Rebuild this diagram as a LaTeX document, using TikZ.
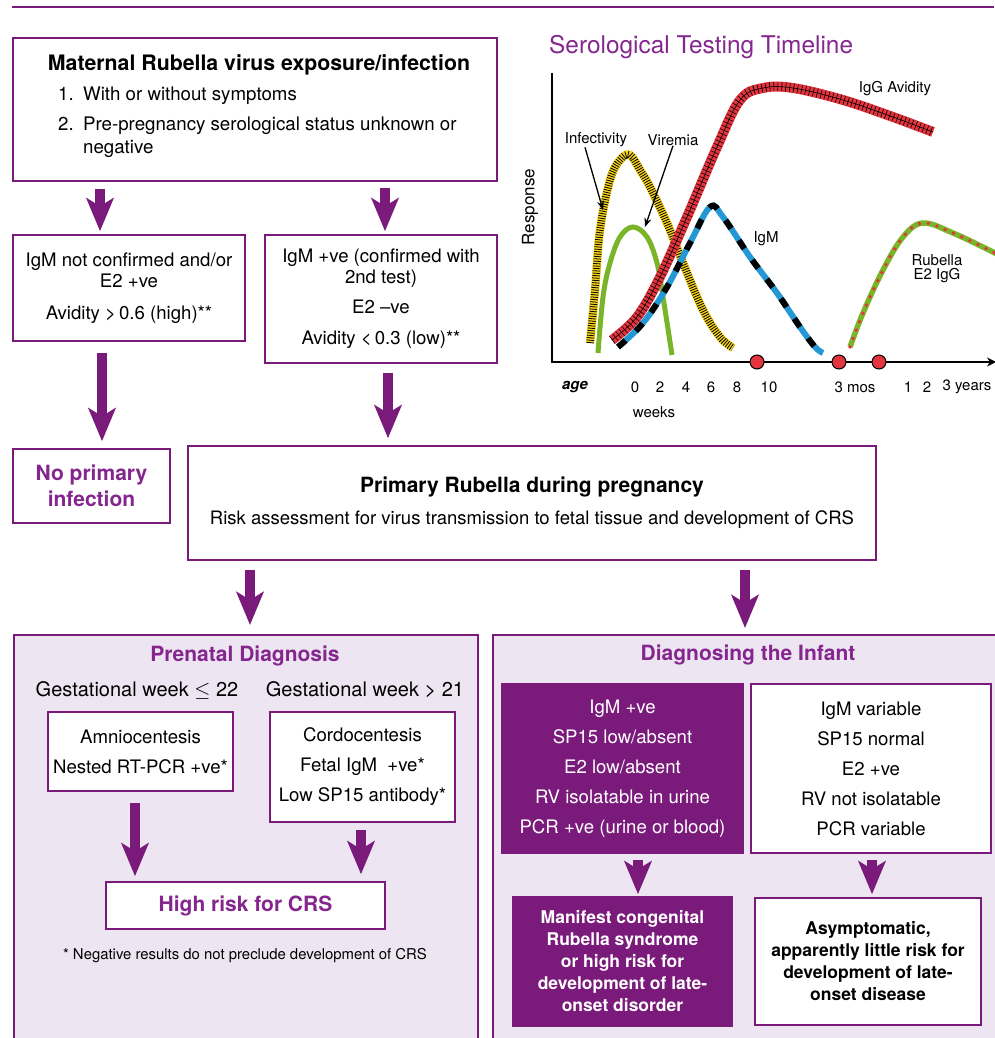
\documentclass[tikz,border=0pt]{standalone}
\usepackage{fontspec}
\setmainfont{TeX Gyre Heros}
\usepackage{tikz}
\usetikzlibrary{arrows.meta,calc,positioning}
\definecolor{rubpurple}{RGB}{122,27,124}
\definecolor{headpurple}{RGB}{133,38,142}
\definecolor{lavender}{RGB}{237,230,242}
\definecolor{igmblue}{RGB}{35,152,212}
\definecolor{virgreen}{RGB}{122,180,40}
\definecolor{infyellow}{RGB}{246,212,30}
\definecolor{avred}{RGB}{228,52,62}
\newcommand{\fsz}[2]{\fontsize{#1}{#2}\selectfont}
\tikzset{pbox/.style={draw=rubpurple, line width=1.5pt, fill=white, inner sep=0pt, align=center},
  dbox/.style={draw=rubpurple, line width=1.5pt, fill=rubpurple, text=white, inner sep=0pt, align=center},
  panel/.style={draw=rubpurple, line width=1.5pt, fill=lavender, inner sep=0pt},
  bigarr/.style={draw=rubpurple, line width=9.5pt, -{Stealth[length=33pt,width=27pt,inset=8pt]}},
  head/.style={font=\fsz{21}{26}\bfseries, text=headpurple, inner sep=0pt, align=center},
  plain/.style={font=\fsz{18.6}{21}, inner sep=0pt},
  clab/.style={font=\fsz{15}{14}, inner sep=0pt},
  ann/.style={draw=black, line width=1.3pt, -{Stealth[length=9pt,width=7pt]}}}
\begin{document}
\begin{tikzpicture}[x=1pt,y=-1pt]
\useasboundingbox (0,0) rectangle (994,1038);
\draw[rubpurple, line width=2pt] (12,7) -- (994,7);

\node[pbox, minimum width=484pt, minimum height=143pt] (mat) at (255,109.5) {};
\node[font=\fsz{21.3}{26}\bfseries, inner sep=0pt] (mattitle) at (259,65) {Maternal Rubella virus exposure/infection};
\node[plain, font=\fsz{18.7}{23}, anchor=west] (item1) at (58,96) {\makebox[25pt][l]{1.}With or without symptoms};
\node[plain, font=\fsz{18.7}{23}, anchor=west, align=left] (item2) at (58,137.5) {\makebox[25pt][l]{2.}Pre-pregnancy serological status unknown or\\\hspace*{25pt}negative};

\node[pbox, minimum width=232pt, minimum height=106pt, font=\fsz{18.6}{21}] (igmno) at (129,288) {IgM not confirmed and/or\\E2 +ve\\[11pt]Avidity >\,0.6 (high)**};
\node[pbox, minimum width=232pt, minimum height=128pt, font=\fsz{18.6}{21}] (igmpos) at (381,299) {IgM +ve (confirmed with\\2nd test)\\[9pt]E2 --ve\\[10pt]Avidity <\,0.3 (low)**};
\node[pbox, head, minimum width=157pt, minimum height=74pt] (noinf) at (91.5,486) {No primary\\infection};
\node[pbox, minimum width=688pt, minimum height=114pt, font=\fsz{18.5}{32}] (prim) at (532,503) {\textbf{\fontsize{21}{32}\selectfont Primary Rubella during pregnancy}\\Risk assessment for virus transmission to fetal tissue and development of CRS};

\draw[bigarr, shorten <=7pt, shorten >=3pt] (100,0 |- mat.south) -- (100,0 |- igmno.north);
\draw[bigarr, shorten <=6pt, shorten >=3pt] (385,0 |- mat.south) -- (385,0 |- igmpos.north);
\draw[bigarr, shorten <=11pt, shorten >=7pt] (102,0 |- igmno.south) -- (102,0 |- noinf.north);
\draw[bigarr, shorten <=9pt, shorten >=7pt] (388,0 |- igmpos.south) -- (388,0 |- prim.north);

\node[panel, minimum width=464pt, minimum height=412pt, anchor=north west] (prenatal) at (13,634) {};
\node[panel, minimum width=512pt, minimum height=412pt, anchor=north west] (infant) at (492,634) {};
\draw[bigarr, shorten <=9pt, shorten >=9pt] (250,0 |- prim.south) -- (250,0 |- prenatal.north);
\draw[bigarr, shorten <=9pt, shorten >=6pt] (745,0 |- prim.south) -- (745,0 |- infant.north);

\node[head] (pretitle) at (245,656) {Prenatal Diagnosis};
\node[plain, font=\fsz{20}{24}] (gwlow) at (137,690) {Gestational week $\leq$ 22};
\node[plain, font=\fsz{20}{24}] (gwhigh) at (365,690) {Gestational week > 21};
\node[pbox, minimum width=185pt, minimum height=79pt, font=\fsz{18.6}{30}] (amnio) at (140.5,751.5) {Amniocentesis\\Nested RT-PCR +ve*};
\node[pbox, minimum width=185pt, minimum height=110pt, font=\fsz{18.6}{30}] (cordo) at (362.5,767) {Cordocentesis\\Fetal IgM\ \ +ve*\\Low SP15 antibody*};
\node[pbox, head, minimum width=279pt, minimum height=47pt] (highrisk) at (245.5,905.5) {High risk for CRS};
\node[plain, font=\fsz{14.9}{16}] (note) at (245,956) {* Negative results do not preclude development of CRS};
\draw[bigarr, shorten <=11pt, shorten >=5pt] (135,0 |- amnio.south) -- (135,0 |- highrisk.north);
\draw[bigarr, shorten <=7pt, shorten >=7pt] (361,0 |- cordo.south) -- (361,0 |- highrisk.north);

\node[head] (inftitle) at (748,655) {Diagnosing the Infant};
\node[dbox, minimum width=241pt, minimum height=169pt, font=\fsz{18.6}{30}] (dark1) at (622.5,768.5) {IgM +ve\\SP15 low/absent\\E2 low/absent\\RV isolatable in urine\\PCR +ve (urine or blood)};
\node[pbox, minimum width=240pt, minimum height=169pt, font=\fsz{18.6}{30}] (white1) at (871,768.5) {IgM variable\\SP15 normal\\E2 +ve\\RV not isolatable\\PCR variable};
\node[dbox, minimum width=219pt, minimum height=129pt, font=\fsz{17.5}{22}\bfseries] (dark2) at (622.5,961.5) {Manifest congenital\\Rubella syndrome\\or high risk for\\development of late-\\onset disorder};
\node[pbox, minimum width=226pt, minimum height=127pt, font=\fsz{17.5}{22}\bfseries] (white2) at (868,961.5) {Asymptomatic,\\apparently little risk for\\development of late-\\onset disease};
\draw[bigarr, shorten <=6pt, shorten >=2pt] (638,0 |- dark1.south) -- (638,0 |- dark2.north);
\draw[bigarr, shorten <=6pt, shorten >=3pt] (872,0 |- white1.south) -- (872,0 |- white2.north);

\node[font=\fsz{24.4}{28}, text=headpurple, inner sep=0pt, anchor=west] (charttitle) at (549,47) {Serological Testing Timeline};
\coordinate (ytop) at (552,73);
\coordinate (origin) at (552,362);
\coordinate (xend) at (996,362);
\draw[line width=1.5pt, -{Stealth[length=9pt,width=9pt,inset=3pt]}] (ytop) -- (origin) -- (xend);
\node[clab, font=\fsz{17}{20}, rotate=90] (resp) at (530,207) {Response};

\draw[infyellow, line width=8.5pt, postaction={draw=black, line width=7.5pt, dash pattern=on 0.8pt off 1.6pt}]
  plot[smooth, tension=0.6] coordinates {(590,343) (595,290) (600,230) (610,180) (620,160) (630,155) (640,170) (650,187) (667,223) (683,263) (703,310) (720,337) (733,348)};
\draw[virgreen, line width=5pt]
  plot[smooth, tension=0.6] coordinates {(598,353) (603,297) (610,263) (620,237) (633,227) (647,237) (657,263) (663,297) (672,355)};
\draw[avred, line width=10pt, postaction={draw=black, line width=9pt, dash pattern=on 0.6pt off 3.4pt}, postaction={draw=black, line width=0.6pt}]
  plot[smooth, tension=0.6] coordinates {(612,340) (637,317) (660,277) (687,217) (717,147) (740,100) (763,88) (793,88) (843,100) (893,117) (933,132)};
\draw[igmblue, line width=6pt, postaction={draw=black, line width=6pt, dash pattern=on 10pt off 14pt}]
  plot[smooth, tension=0.6] coordinates {(618,347) (643,323) (667,287) (690,243) (710,207) (723,217) (750,257) (777,293) (800,327) (815,347) (823,353)};
\draw[virgreen, line width=5.5pt, postaction={draw=avred, line width=3.8pt, line cap=round, dash pattern=on 0pt off 9pt}]
  plot[smooth, tension=0.6] coordinates {(850,347) (863,313) (883,270) (903,237) (923,223) (953,233) (993,252) (1000,256)};

\node[clab] (avlab) at (895,89) {IgG Avidity};
\node[clab] (inflab) at (596,140) {Infectivity};
\node[clab] (virlab) at (673,140) {Viremia};
\node[clab] (igmlab) at (766,239) {IgM};
\node[clab, align=center] (e2lab) at (937,269) {Rubella\\E2 IgG};
\coordinate (infpt) at (603,210);
\coordinate (virpt) at (645,227);
\draw[ann] (inflab.south -| 585,0) -- (infpt);
\draw[ann] (virlab.south) -- (virpt);

\foreach \n/\x in {dot1/757, dot2/839, dot3/879}
  \node[circle, fill=avred, draw=black, line width=1pt, minimum size=14pt, inner sep=0pt] (\n) at (\x,362) {};

\node[clab, font=\fsz{15}{14}\bfseries\itshape] (age) at (575,387) {age};
\foreach \x/\t in {635/0, 660/2, 686/4, 711/6, 737/8, 769/10}
  \node[clab] at (\x,387) {\t};
\node[clab] (mos) at (855,387) {3 mos};
\node[clab] (yr1) at (908,387) {1};
\node[clab] (yr2) at (927,387) {2};
\node[clab] (yrs) at (967,387) {3 years};
\node[clab] (weeks) at (654,412) {weeks};
\end{tikzpicture}
\end{document}
